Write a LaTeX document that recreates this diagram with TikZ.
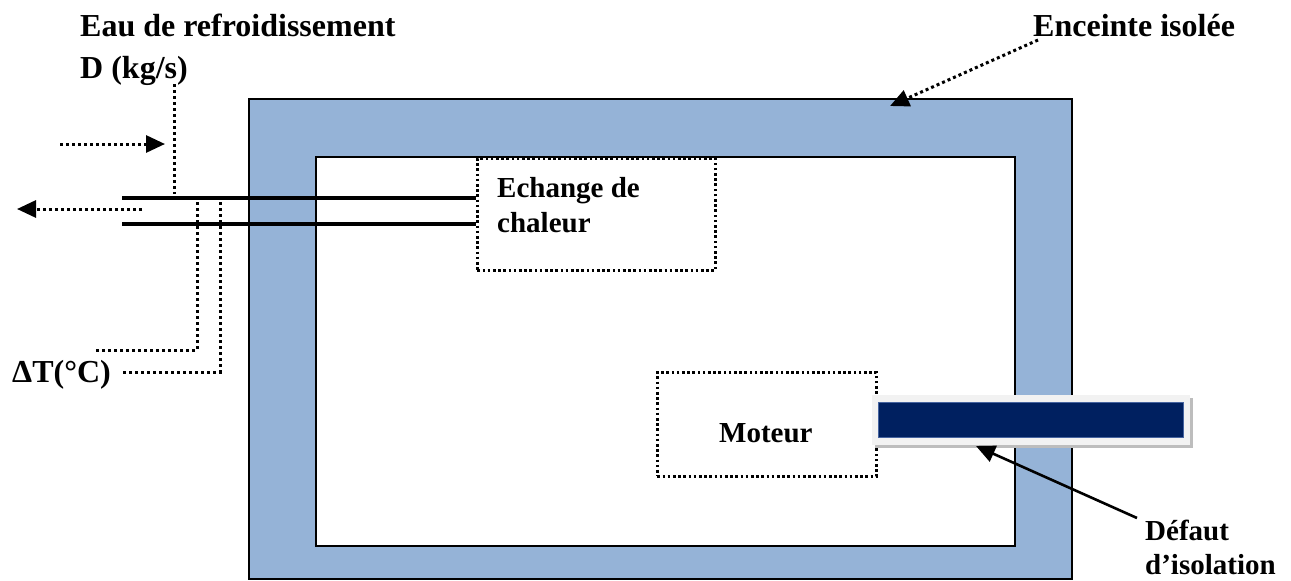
\documentclass[tikz,border=0pt]{standalone}
\usepackage{fontspec}
\setmainfont{Liberation Serif}
\usetikzlibrary{arrows.meta}
\definecolor{frameblue}{HTML}{95B3D7}
\definecolor{navy}{HTML}{002060}
\definecolor{lightframe}{HTML}{F2F2F2}
\definecolor{shadowgray}{HTML}{BDBDBD}
\tikzset{
  lbl/.style={inner sep=0pt, anchor=base west, font=\bfseries\fontsize{32}{36}\selectfont},
  lblsm/.style={inner sep=0pt, anchor=base west, font=\bfseries\fontsize{29}{34}\selectfont},
  dotline/.style={line width=3pt, dash pattern=on 3pt off 3pt},
  dotbox/.style={draw, line width=2.6pt, dash pattern=on 2.6pt off 2.6pt},
  tip/.style={-{Triangle[length=19pt,width=17pt]}},
  pipe/.style={line width=4pt},
  wall/.style={draw, line width=2.6pt}
}
\begin{document}
\begin{tikzpicture}[x=1pt,y=-1pt]
\useasboundingbox (0,0) rectangle (1291,581);
% enclosure
\path[wall, fill=frameblue] (249,99) rectangle (1072,579);
\path[wall, fill=white] (316,157) rectangle (1015,546);
% heat exchange box
\node[dotbox, minimum width=238pt, minimum height=112pt, inner sep=0pt, anchor=north west] (ech) at (476,157) {};
\node[lblsm] (echt1) at (497,197) {Echange de};
\node[lblsm] (echt2) at (497,232) {chaleur};
% pipes
\coordinate (p1s) at (122,198);
\coordinate (p2s) at (122,224);
\draw[pipe] (p1s) -- (ech.west |- p1s);
\draw[pipe] (p2s) -- (ech.west |- p2s);
% motor box
\node[dotbox, minimum width=219pt, minimum height=104pt, inner sep=0pt, anchor=north west] (mot) at (656,371) {};
\node[lblsm] (mott) at (719,442) {Moteur};
% defect bar
\fill[shadowgray] (875,398) rectangle (1193,448);
\node[fill=lightframe, minimum width=318pt, minimum height=50pt, inner sep=0pt, anchor=north west] (barframe) at (872,395) {};
\node[fill=navy, draw={rgb,255:red,70;green,100;blue,160}, line width=0.8pt, minimum width=305pt, minimum height=35pt, inner sep=0pt, anchor=north west] (bar) at (878,402) {};
% labels
\node[lbl] (eau) at (80,36) {Eau de refroidissement};
\node[lbl] (debit) at (80,78) {D (kg/s)};
\node[lbl] (enc) at (1033,36) {Enceinte isolée};
\node[lbl] (dt) at (12,382) {ΔT(°C)};
\node[lblsm] (def1) at (1145,540) {Défaut};
\node[lblsm] (def2) at (1145,574) {d’isolation};
% flow arrows
\coordinate (inA) at (60,144);
\coordinate (inB) at (165,144);
\draw[dotline, tip] (inA) -- (inB);
\coordinate (outA) at (142,209);
\coordinate (outB) at (17,209);
\draw[dotline, tip] (outA) -- (outB);
% D leader
\coordinate (dA) at (174,84);
\coordinate (dB) at (174,194);
\draw[dotline] (dA) -- (dB);
% Delta T leaders
\coordinate (t1a) at (197,202);
\coordinate (t1b) at (197,350);
\coordinate (t1c) at (95,350);
\draw[dotline] (t1a) -- (t1b) -- (t1c);
\coordinate (t2a) at (220,202);
\coordinate (t2b) at (220,372);
\coordinate (t2c) at (121,372);
\draw[dotline] (t2a) -- (t2b) -- (t2c);
% enceinte arrow
\coordinate (encA) at (1038,40);
\coordinate (encB) at (890,106);
\draw[dotline, tip] (encA) -- (encB);
% defect arrow
\coordinate (defA) at (1137,518);
\coordinate (defB) at (976,446);
\draw[line width=2.6pt, tip] (defA) -- (defB);
\end{tikzpicture}
\end{document}
